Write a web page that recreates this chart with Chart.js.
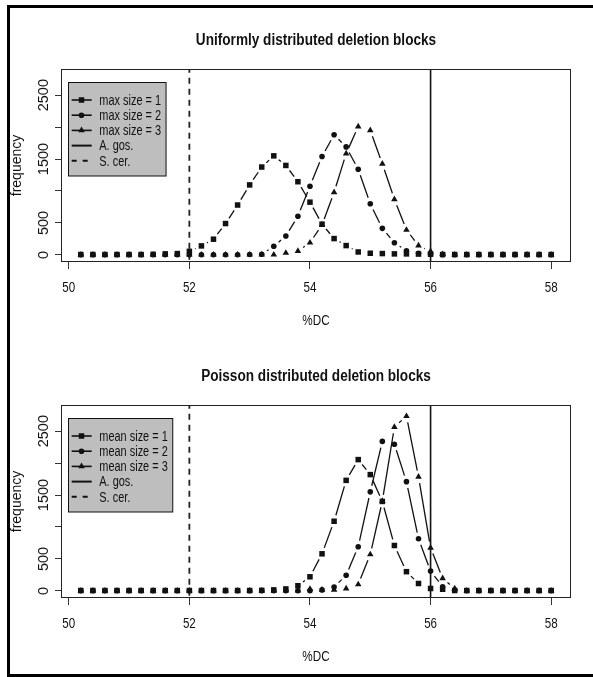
<!DOCTYPE html>
<html><head><meta charset="utf-8">
<script src="https://cdn.jsdelivr.net/npm/chart.js@4.4.1/dist/chart.umd.min.js"></script>
<style>
html,body{margin:0;padding:0;background:#fff;}
body{width:593px;height:677px;position:relative;overflow:hidden;}
.panel{position:absolute;left:0;width:593px;height:338px;}
#p1{top:0px}
#p2{top:336px}
.fr{position:absolute;background:#000;}
</style></head><body>
<div class="panel" id="p1"><canvas id="c1" width="593" height="338"></canvas></div>
<div class="panel" id="p2"><canvas id="c2" width="593" height="338"></canvas></div>
<div class="fr" style="left:7px;top:5px;width:3px;height:672px"></div>
<div class="fr" style="left:7px;top:5px;width:586px;height:3px"></div>
<div class="fr" style="left:7px;top:674px;width:586px;height:3px"></div>
<script>
// ---- data ----
const xValues = [50.2,50.4,50.6,50.8,51.0,51.2,51.4,51.6,51.8,52.0,52.2,52.4,52.6,52.8,53.0,53.2,53.4,53.6,53.8,54.0,54.2,54.4,54.6,54.8,55.0,55.2,55.4,55.6,55.8,56.0,56.2,56.4,56.6,56.8,57.0,57.2,57.4,57.6,57.8,58.0];

const uniformMax1 = [5,5,5,5,5,5,8,15,20,55, 140,245,490,780,1095,1375,1550,1400,1145,825, 480,255,145,45,25,20,15,15,12,10, 5,5,5,5,5,5,5,5,5,5];
const uniformMax2 = [2,2,2,2,2,2,2,2,2,2, 2,2,2,2,5,10,135,295,605,1075, 1540,1880,1690,1340,800,415,190,65,25,10, 2,2,2,2,2,2,2,2,2,2];
const uniformMax3 = [2,2,2,2,2,2,2,2,2,2, 2,2,2,2,2,2,2,30,58,190, 470,980,1585,2010,1950,1425,870,390,145,55, 10,2,2,2,2,2,2,2,2,2];

const poissonMean1 = [5,5,5,5,5,5,5,5,5,5, 5,5,5,5,5,8,15,30,80,220, 580,1090,1730,2055,1820,1400,710,300,115,37, 25,5,5,5,5,5,5,5,5,5];
const poissonMean2 = [2,2,2,2,2,2,2,2,2,2, 2,2,2,2,2,2,2,2,2,2, 15,60,245,690,1550,2340,2295,1710,815,310, 65,10,2,2,2,2,2,2,2,2];
const poissonMean3 = [2,2,2,2,2,2,2,2,2,2, 2,2,2,2,2,2,2,2,2,30, 15,15,37,100,570,1405,2565,2735,1785,675, 195,37,2,2,2,2,2,2,2,2];

const aGosValue = 56;
const sCerValue = 52;

const xTicks = [50, 52, 54, 56, 58];
const xTickLabels = ["50", "52", "54", "56", "58"];
const yTicks = [0, 500, 1000, 1500, 2000, 2500];
const yTickLabels = ["0", "500", "", "1500", "", "2500"];

const xAxisTitle = "%DC";
const yAxisTitle = "frequency";
const uniformTitle = "Uniformly distributed deletion blocks";
const poissonTitle = "Poisson distributed deletion blocks";
const uniformLabels = ["max size = 1", "max size = 2", "max size = 3"];
const poissonLabels = ["mean size = 1", "mean size = 2", "mean size = 3"];
const refLabels = ["A. gos.", "S. cer."];

// ---- styling ----
const X_MIN = 49.888, X_MAX = 58.312, Y_MIN = -112, Y_MAX = 2910;
const pointStyles = ['rect', 'circle', 'triangle'];
const pointRadii = [3.9, 2.8, 3.8];
const GAP = 6.3;
const INK = '#111';
const FAM = '"Liberation Sans", Arial, sans-serif';

function gapDash(ctx) {
  const p0 = ctx.p0, p1 = ctx.p1;
  const L = Math.hypot(p1.x - p0.x, p1.y - p0.y);
  if (L <= 2 * GAP + 0.5) return [0, Math.max(L, 0.01)];
  return [0, GAP, L - 2 * GAP, GAP];
}

function txt(ctx, s, x, y, font, sx, align, baseline, rot) {
  ctx.save();
  ctx.translate(x, y);
  if (rot) ctx.rotate(rot);
  ctx.scale(sx, 1);
  ctx.font = font;
  ctx.textAlign = align;
  ctx.textBaseline = baseline;
  ctx.fillStyle = INK;
  ctx.fillText(s, 0, 0);
  ctx.restore();
}

function makePanel(canvasId, title, labels, series) {
  const datasets = series.map((vals, k) => ({
    label: labels[k],
    data: xValues.map((x, i) => ({x: x, y: vals[i]})),
    borderColor: INK,
    borderWidth: 1.3,
    pointStyle: pointStyles[k],
    pointRadius: pointRadii[k],
    pointBackgroundColor: INK,
    pointBorderColor: INK,
    pointBorderWidth: 0,
    tension: 0,
    fill: false,
    segment: { borderDash: gapDash }
  }));
  datasets.push({
    label: refLabels[0],
    data: [{x: aGosValue, y: Y_MIN - 1000}, {x: aGosValue, y: Y_MAX + 1000}],
    borderColor: INK, borderWidth: 1.6, pointRadius: 0, fill: false
  });
  datasets.push({
    label: refLabels[1],
    data: [{x: sCerValue, y: Y_MIN - 1000}, {x: sCerValue, y: Y_MAX + 1000}],
    borderColor: '#222', borderWidth: 1.8, borderDash: [6, 5], pointRadius: 0, fill: false
  });

  const decor = {
    id: 'decor',
    afterDraw(chart) {
      const ctx = chart.ctx;
      const a = chart.chartArea;
      const cx = (a.left + a.right) / 2;
      // box
      ctx.save();
      ctx.strokeStyle = '#222';
      ctx.lineWidth = 1;
      ctx.strokeRect(Math.round(a.left) - 0.5, Math.round(a.top) + 0.5, Math.round(a.right - a.left) + 1, Math.round(a.bottom - a.top) - 1);
      ctx.restore();
      // title
      txt(ctx, title, cx, 44.5, 'bold 16px ' + FAM, 0.85, 'center', 'alphabetic');
      // x tick labels
      const xs = chart.scales.x;
      xTicks.forEach((v, i) => {
        txt(ctx, xTickLabels[i], xs.getPixelForValue(v), 292, '14.5px ' + FAM, 0.8, 'center', 'alphabetic');
      });
      // x axis title
      txt(ctx, xAxisTitle, cx, 325, '15px ' + FAM, 0.78, 'center', 'alphabetic');
      // y axis title
      txt(ctx, yAxisTitle, 20.5, (a.top + a.bottom) / 2, '14px ' + FAM, 1, 'center', 'alphabetic', -Math.PI / 2);
      // y tick labels (rotated, as in R)
      const ys = chart.scales.y;
      yTicks.forEach((v, i) => {
        if (!yTickLabels[i]) return;
        txt(ctx, yTickLabels[i], 48.3, ys.getPixelForValue(v), '14.5px ' + FAM, 1, 'center', 'alphabetic', -Math.PI / 2);
      });
      // legend
      const font = '14.5px ' + FAM;
      const sx = 0.755;
      const entries = labels.concat(refLabels);
      ctx.save();
      ctx.font = font;
      let maxW = 0;
      entries.forEach(s => { maxW = Math.max(maxW, ctx.measureText(s).width * sx); });
      ctx.restore();
      const bx = 68.5, by = 82.5, textX = 99.3;
      const bw = textX + maxW + 5 - bx, bh = 93.5;
      ctx.save();
      ctx.fillStyle = '#bebebe';
      ctx.fillRect(bx, by, bw, bh);
      ctx.strokeStyle = '#111';
      ctx.lineWidth = 1;
      ctx.strokeRect(bx, by, bw, bh);
      ctx.restore();
      const y0 = 100, step = 15.2;
      entries.forEach((s, i) => {
        const yy = y0 + i * step;
        ctx.save();
        ctx.strokeStyle = INK;
        ctx.lineWidth = i < 3 ? 1.6 : 2;
        if (i === 4) ctx.setLineDash([5, 6]);
        ctx.beginPath();
        ctx.moveTo(71.7, yy);
        ctx.lineTo(91.7, yy);
        ctx.stroke();
        ctx.restore();
        if (i < 3) {
          ctx.save();
          ctx.fillStyle = INK;
          ctx.strokeStyle = INK;
          Chart.helpers.drawPoint(ctx, {pointStyle: pointStyles[i], radius: pointRadii[i], borderWidth: 0, rotation: 0}, 81.5, yy);
          ctx.restore();
        }
        txt(ctx, s, textX, yy + 0.7, font, sx, 'left', 'middle');
      });
    }
  };

  return new Chart(document.getElementById(canvasId), {
    type: 'line',
    data: { datasets: datasets },
    options: {
      responsive: false,
      animation: false,
      events: [],
      layout: { padding: { top: 69, right: 23, left: 0, bottom: 0 } },
      plugins: { legend: { display: false }, tooltip: { enabled: false }, title: { display: false } },
      scales: {
        x: {
          type: 'linear', min: X_MIN, max: X_MAX,
          afterBuildTicks: axis => { axis.ticks = xTicks.map(v => ({value: v})); },
          afterFit: s => { s.height = 76; },
          ticks: {
            autoSkip: false, maxRotation: 0, minRotation: 0, padding: 9,
            color: 'rgba(0,0,0,0)',
            font: { family: FAM, size: 14 },
            callback: (v, i) => xTickLabels[i]
          },
          grid: { drawOnChartArea: false, drawTicks: true, tickLength: 7, color: '#333', lineWidth: 1 },
          border: { display: false }
        },
        y: {
          type: 'linear', min: Y_MIN, max: Y_MAX,
          afterBuildTicks: axis => { axis.ticks = yTicks.map(v => ({value: v})); },
          afterFit: s => { s.width = 62; },
          ticks: { color: 'rgba(0,0,0,0)', font: { size: 12 }, callback: (v, i) => yTickLabels[i] },
          grid: { drawOnChartArea: false, drawTicks: true, tickLength: 7, color: '#333', lineWidth: 1 },
          border: { display: false }
        }
      }
    },
    plugins: [decor]
  });
}

makePanel('c1', uniformTitle, uniformLabels, [uniformMax1, uniformMax2, uniformMax3]);
makePanel('c2', poissonTitle, poissonLabels, [poissonMean1, poissonMean2, poissonMean3]);
</script>
</body></html>
